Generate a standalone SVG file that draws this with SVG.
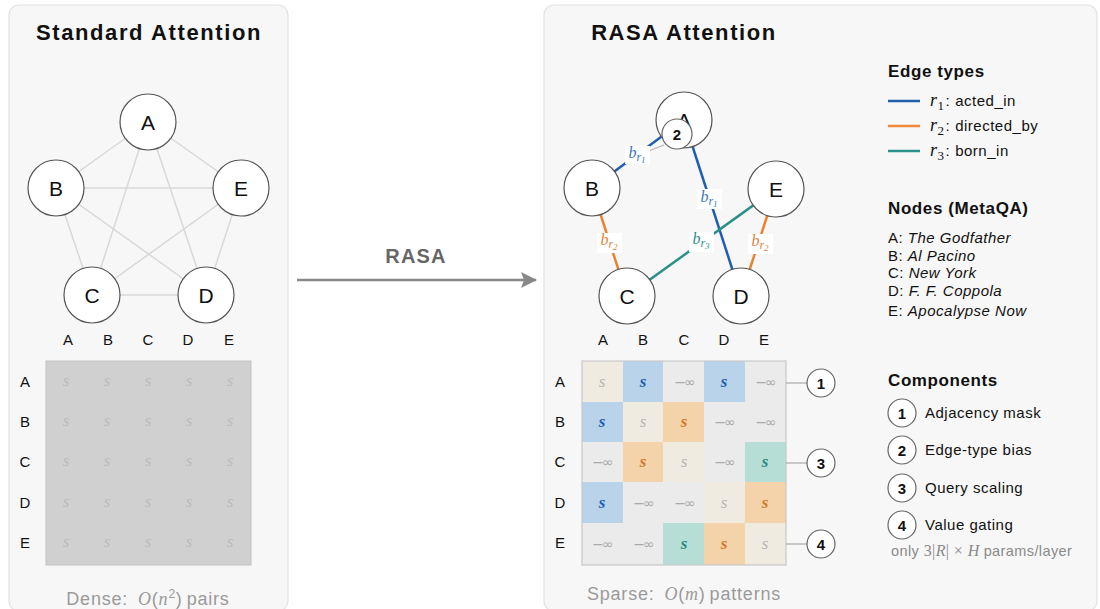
<svg xmlns="http://www.w3.org/2000/svg" width="1100" height="609" viewBox="0 0 1100 609">
<defs>
<style>
.panel{fill:#f7f7f7;stroke:#e2e2e2;stroke-width:1.2}
.title{font-family:"Liberation Sans",Arial,sans-serif;font-weight:bold;font-size:22px;letter-spacing:1.6px;fill:#111;text-anchor:middle}
.node circle{fill:#fff;stroke:#555;stroke-width:1.2}
.nl{font-family:"Liberation Sans",Arial,sans-serif;font-size:21px;fill:#111;text-anchor:middle;dominant-baseline:central}
.ax{font-family:"Liberation Sans",Arial,sans-serif;font-size:15px;fill:#111;text-anchor:middle}
.ms{font-family:"Liberation Serif","Times New Roman",serif;font-style:italic;font-size:17px;text-anchor:middle}
.inf{font-family:"DejaVu Sans",sans-serif;font-size:14px;letter-spacing:-2px;fill:#aaa;text-anchor:middle}
.cap{font-family:"Liberation Sans",Arial,sans-serif;font-size:18px;letter-spacing:0.8px;fill:#9a9a9a;text-anchor:middle}
.mi{font-family:"Liberation Serif","Times New Roman",serif;font-style:italic}
.lh{font-family:"Liberation Sans",Arial,sans-serif;font-weight:bold;font-size:17px;letter-spacing:0.6px;fill:#111}
.lt{font-family:"Liberation Sans",Arial,sans-serif;font-size:15px;letter-spacing:0.5px;fill:#111}
.it{font-style:italic}
.badge circle{fill:#fff;stroke:#666;stroke-width:1.2}
.bt{font-family:"Liberation Sans",Arial,sans-serif;font-weight:bold;font-size:15px;fill:#111;text-anchor:middle;dominant-baseline:central}
.lbl{fill:#fff}
.bl{font-family:"Liberation Serif","Times New Roman",serif;font-style:italic;font-size:16px;text-anchor:middle}
</style>
<marker id="arr" markerWidth="16" markerHeight="16" refX="15" refY="8" orient="auto" markerUnits="userSpaceOnUse" viewBox="0 0 16 16">
<path d="M0,0 L16,8 L0,16 L3,8 Z" fill="#888"/>
</marker>
</defs>
<rect width="1100" height="609" fill="#fff"/>
<!-- panels -->
<rect class="panel" x="9" y="5" width="279" height="606" rx="10"/>
<rect class="panel" x="544" y="5" width="553" height="606" rx="10"/>
<text class="title" x="149" y="40">Standard Attention</text>
<text class="title" x="684" y="40">RASA Attention</text>

<!-- left graph connectors -->
<g id="left-edges" stroke="#d8d8d8" stroke-width="1.5" fill="none">
<line x1="148" y1="122" x2="56" y2="188"/>
<line x1="148" y1="122" x2="241" y2="188"/>
<line x1="148" y1="122" x2="92" y2="295"/>
<line x1="148" y1="122" x2="206" y2="295"/>
<line x1="56" y1="188" x2="241" y2="188"/>
<line x1="56" y1="188" x2="92" y2="295"/>
<line x1="56" y1="188" x2="206" y2="295"/>
<line x1="241" y1="188" x2="92" y2="295"/>
<line x1="241" y1="188" x2="206" y2="295"/>
<line x1="92" y1="295" x2="206" y2="295"/>
</g>
<g id="L-A" class="node"><circle cx="148" cy="122" r="28"/><text class="nl" x="148" y="122">A</text></g>
<g id="L-B" class="node"><circle cx="56" cy="188" r="28"/><text class="nl" x="56" y="188">B</text></g>
<g id="L-E" class="node"><circle cx="241" cy="188" r="28"/><text class="nl" x="241" y="188">E</text></g>
<g id="L-C" class="node"><circle cx="92" cy="295" r="28"/><text class="nl" x="92" y="295">C</text></g>
<g id="L-D" class="node"><circle cx="206" cy="295" r="28"/><text class="nl" x="206" y="295">D</text></g>

<!-- left matrix -->
<g id="left-matrix">
<text class="ax" x="68" y="345">A</text><text class="ax" x="108" y="345">B</text><text class="ax" x="148" y="345">C</text><text class="ax" x="188" y="345">D</text><text class="ax" x="229" y="345">E</text>
<text class="ax" x="25" y="387">A</text><text class="ax" x="25" y="427">B</text><text class="ax" x="25" y="467">C</text><text class="ax" x="25" y="508">D</text><text class="ax" x="25" y="548">E</text>
<rect x="46" y="361" width="205" height="204" fill="#d0d0d0" stroke="#c2c2c2" stroke-width="1"/>
<g class="ms" fill="#bcbcbc">
<text x="66" y="386">s</text><text x="107" y="386">s</text><text x="148" y="386">s</text><text x="189" y="386">s</text><text x="230" y="386">s</text>
<text x="66" y="426">s</text><text x="107" y="426">s</text><text x="148" y="426">s</text><text x="189" y="426">s</text><text x="230" y="426">s</text>
<text x="66" y="466">s</text><text x="107" y="466">s</text><text x="148" y="466">s</text><text x="189" y="466">s</text><text x="230" y="466">s</text>
<text x="66" y="507">s</text><text x="107" y="507">s</text><text x="148" y="507">s</text><text x="189" y="507">s</text><text x="230" y="507">s</text>
<text x="66" y="547">s</text><text x="107" y="547">s</text><text x="148" y="547">s</text><text x="189" y="547">s</text><text x="230" y="547">s</text>
</g>
</g>
<text class="cap" x="148" y="605">Dense: <tspan class="mi" dx="4">O</tspan>(<tspan class="mi">n</tspan><tspan font-size="12" dy="-7">2</tspan><tspan dy="7">)</tspan><tspan dx="4">pairs</tspan></text>

<!-- transition arrow -->
<g id="rasa-arrow">
<line x1="297" y1="280" x2="536" y2="280" stroke="#888" stroke-width="2.5" marker-end="url(#arr)"/>
<text x="416" y="263" font-family="Liberation Sans, Arial, sans-serif" font-weight="bold" font-size="20" letter-spacing="1.2" fill="#666" text-anchor="middle">RASA</text>
</g>

<!-- right graph connectors -->
<g id="right-edges" fill="none" stroke-width="2.5">
<line x1="684" y1="120" x2="592" y2="188" stroke="#1f5fad"/>
<line x1="684" y1="120" x2="741" y2="296" stroke="#1f5fad"/>
<line x1="592" y1="188" x2="627" y2="296" stroke="#e8822f"/>
<line x1="627" y1="296" x2="776" y2="189" stroke="#2a9088"/>
<line x1="776" y1="189" x2="741" y2="296" stroke="#e8822f"/>
<line x1="664" y1="145" x2="646" y2="152" stroke="#aaa" stroke-width="1"/>
</g>
<g id="edge-labels">
<rect class="lbl" x="625" y="146" width="25" height="18"/>
<text class="bl" x="637" y="158" fill="#3a78c0">b<tspan font-size="12" dy="3">r</tspan><tspan font-size="9" dy="2">1</tspan></text>
<rect class="lbl" x="697" y="189" width="25" height="20"/>
<text class="bl" x="709" y="202" fill="#3a78c0">b<tspan font-size="12" dy="3">r</tspan><tspan font-size="9" dy="2">1</tspan></text>
<rect class="lbl" x="597" y="233" width="25" height="20"/>
<text class="bl" x="609" y="245" fill="#e08040">b<tspan font-size="12" dy="3">r</tspan><tspan font-size="9" dy="2">2</tspan></text>
<rect class="lbl" x="689" y="232" width="25" height="20"/>
<text class="bl" x="701" y="244" fill="#2a9088">b<tspan font-size="12" dy="3">r</tspan><tspan font-size="9" dy="2">3</tspan></text>
<rect class="lbl" x="748" y="234" width="25" height="20"/>
<text class="bl" x="760" y="246" fill="#e08040">b<tspan font-size="12" dy="3">r</tspan><tspan font-size="9" dy="2">2</tspan></text>
</g>
<g id="R-A" class="node"><circle cx="684" cy="120" r="28"/><text class="nl" x="684" y="120">A</text></g>
<g id="R-B" class="node"><circle cx="592" cy="188" r="28"/><text class="nl" x="592" y="188">B</text></g>
<g id="R-E" class="node"><circle cx="776" cy="189" r="28"/><text class="nl" x="776" y="189">E</text></g>
<g id="R-C" class="node"><circle cx="627" cy="296" r="28"/><text class="nl" x="627" y="296">C</text></g>
<g id="R-D" class="node"><circle cx="741" cy="296" r="28"/><text class="nl" x="741" y="296">D</text></g>
<g id="badge-2" class="badge"><circle cx="677" cy="134" r="15"/><text class="bt" x="677" y="134">2</text></g>

<!-- right matrix -->
<g id="right-matrix">
<text class="ax" x="603" y="345">A</text><text class="ax" x="643" y="345">B</text><text class="ax" x="684" y="345">C</text><text class="ax" x="724" y="345">D</text><text class="ax" x="764" y="345">E</text>
<text class="ax" x="560" y="387">A</text><text class="ax" x="560" y="427">B</text><text class="ax" x="560" y="467">C</text><text class="ax" x="560" y="508">D</text><text class="ax" x="560" y="548">E</text>
<rect x="582" y="361" width="204" height="204" fill="#ebebeb"/>
<g fill="#f0ebe1">
<rect x="582" y="361" width="41" height="41"/><rect x="623" y="402" width="40" height="40"/><rect x="663" y="442" width="41" height="40"/><rect x="704" y="482" width="41" height="41"/><rect x="745" y="523" width="41" height="42"/>
</g>
<g fill="#b8d3ea">
<rect x="623" y="361" width="40" height="41"/><rect x="704" y="361" width="41" height="41"/><rect x="582" y="402" width="41" height="40"/><rect x="582" y="482" width="41" height="41"/>
</g>
<g fill="#f4d3ab">
<rect x="663" y="402" width="41" height="40"/><rect x="623" y="442" width="40" height="40"/><rect x="745" y="482" width="41" height="41"/><rect x="704" y="523" width="41" height="42"/>
</g>
<g fill="#b6ded6">
<rect x="745" y="442" width="41" height="40"/><rect x="663" y="523" width="41" height="42"/>
</g>
<rect x="582" y="361" width="204" height="204" fill="none" stroke="#c8c8c8" stroke-width="1.2"/>
<g class="ms" fill="#b5b5b5">
<text x="602" y="387">s</text><text x="643" y="427">s</text><text x="684" y="467">s</text><text x="724" y="508">s</text><text x="765" y="549">s</text>
</g>
<g class="ms" fill="#1f5fad" font-weight="bold">
<text x="643" y="387">s</text><text x="724" y="387">s</text><text x="602" y="427">s</text><text x="602" y="508">s</text>
</g>
<g class="ms" fill="#d4772a" font-weight="bold">
<text x="684" y="427">s</text><text x="643" y="467">s</text><text x="765" y="508">s</text><text x="724" y="549">s</text>
</g>
<g class="ms" fill="#2a8a80" font-weight="bold">
<text x="765" y="467">s</text><text x="684" y="549">s</text>
</g>
<g class="inf">
<text x="684" y="387">−∞</text><text x="765" y="387">−∞</text>
<text x="724" y="427">−∞</text><text x="765" y="427">−∞</text>
<text x="602" y="467">−∞</text><text x="724" y="467">−∞</text>
<text x="643" y="508">−∞</text><text x="684" y="508">−∞</text>
<text x="602" y="549">−∞</text><text x="643" y="549">−∞</text>
</g>
</g>
<g id="callout-lines" stroke="#999" stroke-width="1">
<line x1="786" y1="383" x2="807" y2="383"/>
<line x1="786" y1="463" x2="807" y2="463"/>
<line x1="786" y1="544" x2="807" y2="544"/>
</g>
<g id="badge-1" class="badge"><circle cx="821" cy="383" r="14"/><text class="bt" x="821" y="383">1</text></g>
<g id="badge-3" class="badge"><circle cx="821" cy="463" r="14"/><text class="bt" x="821" y="463">3</text></g>
<g id="badge-4" class="badge"><circle cx="821" cy="544" r="14"/><text class="bt" x="821" y="544">4</text></g>
<text class="cap" x="684" y="600">Sparse: <tspan class="mi" dx="4">O</tspan>(<tspan class="mi">m</tspan>)<tspan dx="4">patterns</tspan></text>

<!-- legend: edge types -->
<g id="legend-edges">
<text class="lh" x="888" y="77">Edge types</text>
<line x1="888" y1="101" x2="920" y2="101" stroke="#1f5fad" stroke-width="2.5"/>
<line x1="888" y1="126" x2="920" y2="126" stroke="#f08a3a" stroke-width="2.5"/>
<line x1="888" y1="151" x2="920" y2="151" stroke="#2c928a" stroke-width="2.5"/>
<text class="lt" x="930" y="106"><tspan class="mi" font-size="18">r</tspan><tspan font-family="Liberation Serif, serif" font-size="13" dy="4">1</tspan><tspan dy="-4" dx="1">:</tspan><tspan dx="5">acted_in</tspan></text>
<text class="lt" x="930" y="131"><tspan class="mi" font-size="18">r</tspan><tspan font-family="Liberation Serif, serif" font-size="13" dy="4">2</tspan><tspan dy="-4" dx="1">:</tspan><tspan dx="5">directed_by</tspan></text>
<text class="lt" x="930" y="156"><tspan class="mi" font-size="18">r</tspan><tspan font-family="Liberation Serif, serif" font-size="13" dy="4">3</tspan><tspan dy="-4" dx="1">:</tspan><tspan dx="5">born_in</tspan></text>
</g>
<g id="legend-nodes">
<text class="lh" x="888" y="214">Nodes (MetaQA)</text>
<text class="lt" x="888" y="243">A: <tspan class="it">The Godfather</tspan></text>
<text class="lt" x="888" y="261">B: <tspan class="it">Al Pacino</tspan></text>
<text class="lt" x="888" y="278">C: <tspan class="it">New York</tspan></text>
<text class="lt" x="888" y="296">D: <tspan class="it">F. F. Coppola</tspan></text>
<text class="lt" x="888" y="316">E: <tspan class="it">Apocalypse Now</tspan></text>
</g>
<g id="legend-components">
<text class="lh" x="888" y="386">Components</text>
<g class="badge"><circle cx="902" cy="413" r="14"/><text class="bt" x="902" y="413">1</text></g>
<g class="badge"><circle cx="902" cy="450" r="14"/><text class="bt" x="902" y="450">2</text></g>
<g class="badge"><circle cx="902" cy="488" r="14"/><text class="bt" x="902" y="488">3</text></g>
<g class="badge"><circle cx="902" cy="525" r="14"/><text class="bt" x="902" y="525">4</text></g>
<text class="lt" x="925" y="418" font-size="15.5">Adjacency mask</text>
<text class="lt" x="925" y="455" font-size="15.5">Edge-type bias</text>
<text class="lt" x="925" y="493" font-size="15.5">Query scaling</text>
<text class="lt" x="925" y="530" font-size="15.5">Value gating</text>
<text x="891" y="556" font-family="Liberation Sans, Arial, sans-serif" font-size="14.5" letter-spacing="0.4" fill="#8a8a8a">only <tspan font-family="Liberation Serif, serif" font-size="16">3|</tspan><tspan class="mi" font-size="16">R</tspan><tspan font-family="Liberation Serif, serif" font-size="16">| × </tspan><tspan class="mi" font-size="16">H</tspan><tspan dx="4">params/layer</tspan></text>
</g>
</svg>
